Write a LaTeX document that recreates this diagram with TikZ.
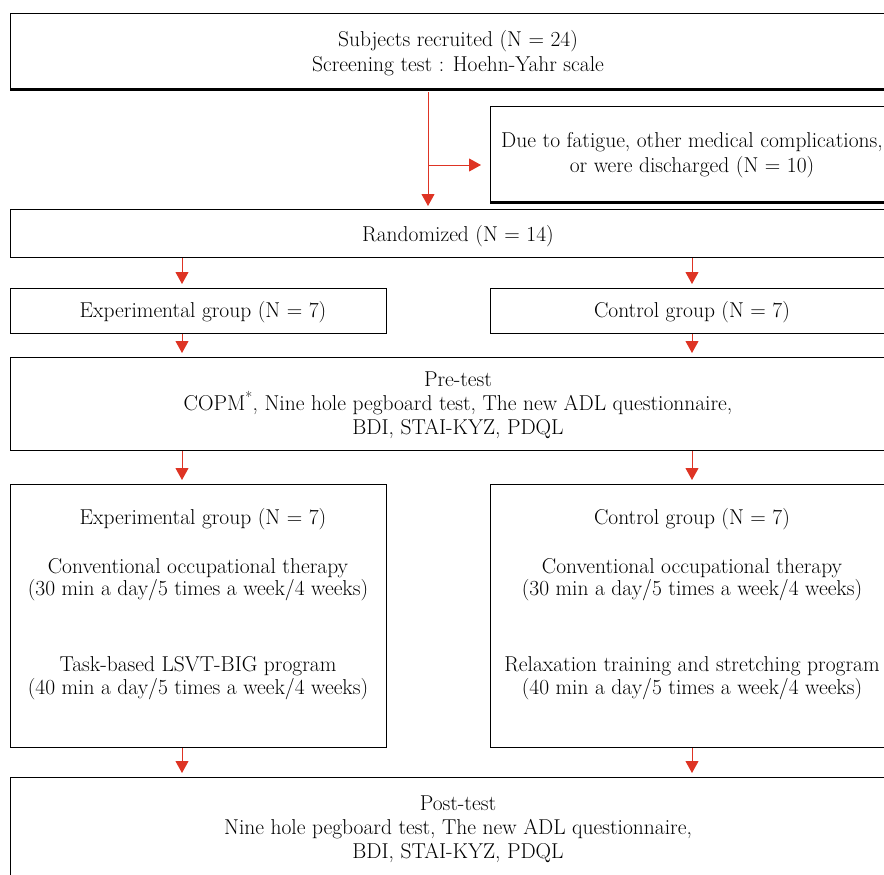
\documentclass[tikz,border=0pt]{standalone}
\usepackage{fontspec}
\usetikzlibrary{arrows.meta}
\definecolor{arrred}{RGB}{222,52,36}
\begin{document}
\begin{tikzpicture}[x=1pt,y=-1pt,
  box/.style={draw=black,line width=1.3pt,inner sep=0pt,anchor=north west},
  txt/.style={inner sep=0pt,anchor=base,font=\fontsize{21.5}{24}\selectfont},
  arr/.style={draw=arrred,line width=1pt,-{Triangle[width=13pt,length=12pt]}},
  thick edge/.style={line width=2.6pt},
]
\useasboundingbox (0,0) rectangle (884,875);
\clip (0,0) rectangle (884,875);
% boxes
\node[box,minimum width=896pt,minimum height=75pt] (top) at (10,13) {};
\draw[thick edge] ([yshift=-0.7pt]top.south west) -- ([yshift=-0.7pt]top.south east);
\node[box,minimum width=404pt,minimum height=95pt] (fat) at (490,106) {};
\draw[thick edge] ([yshift=-0.7pt]fat.south west) -- ([yshift=-0.7pt]fat.south east);
\node[box,minimum width=896pt,minimum height=48pt] (rand) at (10,209) {};
\node[box,minimum width=376pt,minimum height=45pt] (exp1) at (10,288) {};
\node[box,minimum width=404pt,minimum height=45pt] (con1) at (490,288) {};
\node[box,minimum width=896pt,minimum height=93pt] (pre) at (10,357) {};
\node[box,minimum width=376pt,minimum height=263pt] (exp2) at (10,484) {};
\node[box,minimum width=404pt,minimum height=263pt] (con2) at (490,484) {};
\node[box,minimum width=896pt,minimum height=120pt] (post) at (10,777) {};
% texts
\node[txt] (t1) at (458,47) {Subjects recruited (N = 24)};
\node[txt] (t2) at (458,71) {Screening test : Hoehn-Yahr scale};
\node[txt] (f1) at (692,147) {Due to fatigue, other medical complications,};
\node[txt] (f2) at (692,172) {or were discharged (N = 10)};
\node[txt] (r1) at (458,241) {Randomized (N = 14)};
\node[txt] (e1) at (203,317) {Experimental group (N = 7)};
\node[txt] (c1) at (692,317) {Control group (N = 7)};
\node[txt] (p1) at (458,386) {Pre-test};
\node[txt] (p2) at (458,410) {COPM\textsuperscript{*}, Nine hole pegboard test, The new ADL questionnaire,};
\node[txt] (p3) at (458,434) {BDI, STAI-KYZ, PDQL};
\node[txt] (e2a) at (203,524) {Experimental group (N = 7)};
\node[txt] (e2b) at (198,573) {Conventional occupational therapy};
\node[txt] (e2c) at (198,595) {(30 min a day/5 times a week/4 weeks)};
\node[txt] (e2d) at (198,671) {Task-based LSVT-BIG program};
\node[txt] (e2e) at (198,694) {(40 min a day/5 times a week/4 weeks)};
\node[txt] (c2a) at (692,524) {Control group (N = 7)};
\node[txt] (c2b) at (692,573) {Conventional occupational therapy};
\node[txt] (c2c) at (692,595) {(30 min a day/5 times a week/4 weeks)};
\node[txt] (c2d) at (692,671) {Relaxation training and stretching program};
\node[txt] (c2e) at (692,694) {(40 min a day/5 times a week/4 weeks)};
\node[txt] (q1) at (458,810) {Post-test};
\node[txt] (q2) at (458,834) {Nine hole pegboard test, The new ADL questionnaire,};
\node[txt] (q3) at (458,858) {BDI, STAI-KYZ, PDQL};
% connectors
\coordinate (aM) at (428,0);
\coordinate (aL) at (182,0);
\coordinate (aR) at (692,0);
\coordinate (br) at (428,165);
\draw[arr,shorten <=3pt,shorten >=3pt] (top.south -| aM) -- (rand.north -| aM);
\draw[arr,shorten >=9pt] (br) -- (br -| fat.west);
\foreach \a/\b in {rand/exp1,exp1/pre,pre/exp2,exp2/post}{
  \draw[arr,shorten >=4pt] (\a.south -| aL) -- (\b.north -| aL);}
\foreach \a/\b in {rand/con1,con1/pre,pre/con2,con2/post}{
  \draw[arr,shorten >=4pt] (\a.south -| aR) -- (\b.north -| aR);}
\end{tikzpicture}
\end{document}
